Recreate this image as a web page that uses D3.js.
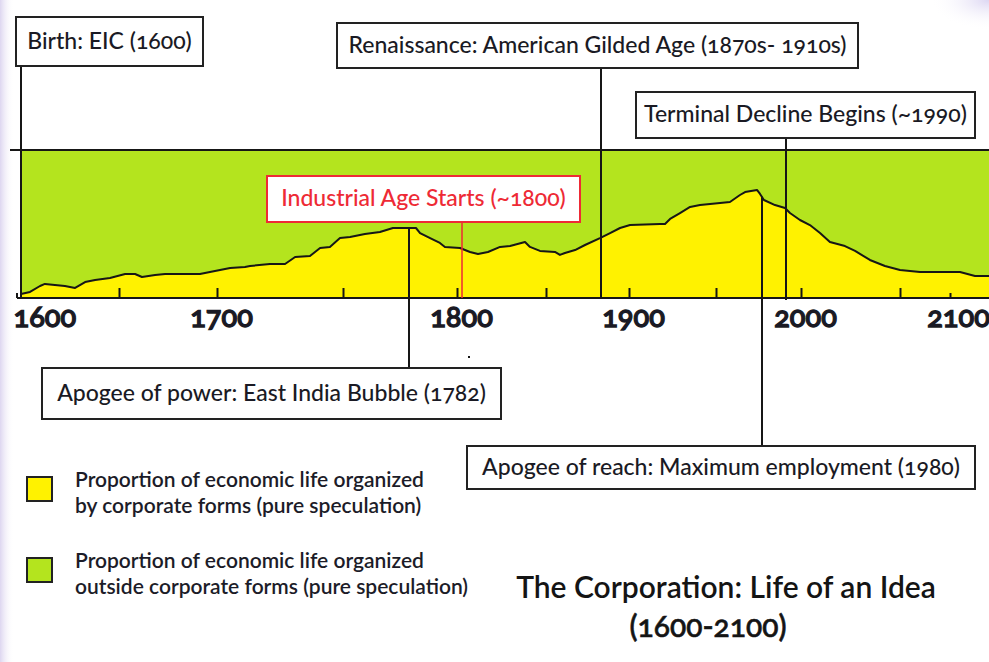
<!DOCTYPE html>
<html>
<head>
<meta charset="utf-8">
<script src="https://cdn.jsdelivr.net/npm/d3@7"></script>
<style>
  html, body { margin: 0; padding: 0; background: #fff; }
  svg { display: block; font-family: Lato, "Open Sans", sans-serif; }
  svg text { font-variant-numeric: oldstyle-nums; font-feature-settings: "onum" 1; }
</style>
</head>
<body>
<svg id="chart" width="989" height="662"></svg>
<script>
// ---------------- DATA ----------------
// axis knots (years at the 50-year ticks, drawn unevenly in the source)
const axisYears = [1600, 1650, 1700, 1750, 1800, 1850, 1900, 1950, 2000, 2050, 2100];
const centuryLabels = ["1600", "1700", "1800", "1900", "2000", "2100"];
const centuryYears = [1600, 1700, 1800, 1900, 2000, 2100];
const tickYears = [1650, 1700, 1750, 1800, 1850, 1900, 1950, 2000, 2050, 2100];

// share (%) of economic life organized by corporate forms (pure speculation)
const years = [1600, 1604.6, 1609.7, 1612.2, 1617.3, 1622.4, 1627.6, 1632.7, 1637.8, 1645.4,
  1653.1, 1658.2, 1661.7, 1668.4, 1673.5, 1691.3, 1696.4, 1705.2, 1711.1, 1713.1,
  1721.0, 1727.0, 1731.0, 1736.9, 1740.9, 1744.8, 1748.8, 1753.1, 1759.6, 1766.2,
  1771.9, 1782.0, 1783.8, 1788.2, 1792.5, 1794.7, 1801.7, 1807.3, 1811.8, 1817.4,
  1824.2, 1829.8, 1838.2, 1841.0, 1846.6, 1855.4, 1858.4, 1861.4, 1867.5, 1873.5,
  1882.5, 1888.6, 1894.6, 1900.6, 1917.8, 1920.7, 1923.6, 1929.3, 1935.1, 1940.8,
  1952.4, 1958.2, 1964.1, 1967.1, 1974.1, 1975.9, 1978.2, 1984.7, 1990.6, 1993.5,
  1999.4, 2004.5, 2009.6, 2014.6, 2022.2, 2027.3, 2034.8, 2042.4, 2050.0, 2070,
  2090, 2110, 2125, 2139];
const corporateShare = [2.7, 4.1, 8.1, 9.5, 8.8, 8.1, 6.8, 10.8, 12.2, 13.5,
  16.2, 16.2, 14.2, 15.5, 16.2, 16.2, 17.6, 20.3, 20.9, 21.6,
  23.0, 23.0, 27.7, 28.4, 33.8, 34.5, 40.5, 41.2, 43.2, 44.6,
  47.3, 47.3, 43.9, 40.5, 37.2, 34.5, 33.8, 31.1, 29.7, 31.1,
  34.5, 35.1, 37.8, 34.5, 31.8, 31.1, 29.1, 30.4, 32.4, 35.8,
  40.5, 43.9, 47.3, 49.3, 50.0, 50.0, 53.4, 57.4, 61.5, 62.8,
  64.2, 64.9, 69.6, 71.6, 73.0, 70.3, 66.2, 62.8, 60.8, 57.4,
  52.7, 49.3, 43.9, 37.8, 35.1, 31.8, 25.7, 21.6, 18.9, 17.6,
  17.6, 17.6, 14.9, 14.9];

// annotations: label text and where its leader line meets the time axis
const eventLabels = ["Birth: EIC (1600)", "Renaissance: American Gilded Age (1870s- 1910s)",
  "Terminal Decline Begins (~1990)", "Industrial Age Starts (~1800)",
  "Apogee of power: East India Bubble (1782)", "Apogee of reach: Maximum employment (1980)"];
const eventYears = [1600, 1883, 1991, 1803, 1779, 1977];

const legendLabels = [
  ["Proportion of economic life organized", "by corporate forms (pure speculation)"],
  ["Proportion of economic life organized", "outside corporate forms (pure speculation)"]
];
const titleLines = ["The Corporation: Life of an Idea", "(1600-2100)"];

// ---------------- LAYOUT / STYLE ----------------
const svg = d3.select("#chart");
const W = 989, H = 662;
const plotTop = 150, plotBottom = 298, plotLeft = 21;
const axisPx = [21, 119, 217, 343, 457, 546, 629, 716, 801, 900, 950];
const GREEN = "#b4e41e", YELLOW = "#fff200", INK = "#161616", RED = "#ee2a35";
const FONT = "Lato, sans-serif";

// annotation boxes [x0, y0, x1, y1]
const boxes = [
  {b: [16, 17, 203, 66], kind: "above", red: false},
  {b: [337, 23, 858, 68], kind: "above", red: false},
  {b: [636, 92, 975, 138], kind: "above", red: false},
  {b: [267, 176, 580, 222], kind: "above", red: true},
  {b: [42, 368, 501, 419], kind: "below", red: false},
  {b: [467, 446, 975, 489], kind: "below", red: false}
];

const x = d3.scaleLinear().domain(axisYears).range(axisPx);
const y = d3.scaleLinear().domain([0, 100]).range([plotBottom, plotTop]);

const data = years.map((yr, i) => ({year: yr, v: corporateShare[i]}));

// faint lavender background edges
const defs = svg.append("defs");
const lg = defs.append("linearGradient").attr("id", "edgeL").attr("x1", 0).attr("x2", 1);
lg.append("stop").attr("offset", 0).attr("stop-color", "#ddd6f0");
lg.append("stop").attr("offset", 1).attr("stop-color", "#ffffff").attr("stop-opacity", 0);
svg.append("rect").attr("x", 0).attr("y", 0).attr("width", 14).attr("height", H).attr("fill", "url(#edgeL)");
const rg = defs.append("radialGradient").attr("id", "edgeTR").attr("cx", 1).attr("cy", 0).attr("r", 1);
rg.append("stop").attr("offset", 0).attr("stop-color", "#dcd6f2");
rg.append("stop").attr("offset", 1).attr("stop-color", "#ffffff").attr("stop-opacity", 0);
svg.append("rect").attr("x", 930).attr("y", 0).attr("width", 59).attr("height", 30).attr("fill", "url(#edgeTR)");

// green background (outside corporate forms)
svg.append("rect")
  .attr("x", plotLeft).attr("y", plotTop)
  .attr("width", W - plotLeft).attr("height", plotBottom - plotTop)
  .attr("fill", GREEN);

// yellow area (corporate forms)
const area = d3.area().x(d => x(d.year)).y0(y(0)).y1(d => y(d.v)).curve(d3.curveLinear);
svg.append("path").datum(data).attr("d", area).attr("fill", YELLOW);
const line = d3.line().x(d => x(d.year)).y(d => y(d.v)).curve(d3.curveLinear);
svg.append("path").datum(data).attr("d", line)
  .attr("fill", "none").attr("stroke", INK).attr("stroke-width", 2).attr("stroke-linejoin", "round");

// top frame line
svg.append("line").attr("x1", 10).attr("x2", W).attr("y1", plotTop).attr("y2", plotTop)
  .attr("stroke", INK).attr("stroke-width", 2);

// tick marks (50 years), pointing up
const tickAxis = d3.axisBottom(x).tickValues(tickYears).tickSizeInner(-10).tickSizeOuter(0).tickFormat("");
const gt = svg.append("g").attr("transform", `translate(0,${plotBottom})`).call(tickAxis);
gt.select(".domain").remove();
gt.selectAll(".tick line").attr("stroke", INK).attr("stroke-width", 2)
  .attr("y2", (d) => d === 2100 ? -5 : -10);

// baseline
svg.append("line").attr("x1", 17).attr("x2", W).attr("y1", plotBottom).attr("y2", plotBottom)
  .attr("stroke", INK).attr("stroke-width", 2);
svg.append("line").attr("x1", 17).attr("x2", 17).attr("y1", plotBottom).attr("y2", plotBottom - 5)
  .attr("stroke", INK).attr("stroke-width", 2);

// century labels (medium weight + stroke keeps the old-style figures while looking bold)
const labAxis = d3.axisBottom(x).tickValues(centuryYears).tickSize(0).tickPadding(0)
  .tickFormat((d, i) => centuryLabels[i]);
const gl = svg.append("g").attr("transform", `translate(0,${plotBottom})`).call(labAxis);
gl.attr("font-family", FONT);
gl.select(".domain").remove();
gl.selectAll(".tick text")
  .attr("font-family", FONT).attr("font-weight", 500).attr("font-size", 29)
  .style("font-variant-numeric", "oldstyle-nums")
  .attr("fill", "#1a1a24").attr("stroke", "#1a1a24").attr("stroke-width", 1.3)
  .attr("dy", null).attr("y", 29)
  .attr("text-anchor", (d, i) => i === 0 ? "start" : "middle")
  .attr("dx", (d, i) => i === 0 ? -8 : (i === centuryYears.length - 1 ? 8 : 4));

// helper: curve value at year
function curveAt(yr) {
  const i = d3.bisector(d => d.year).left(data, yr);
  if (i <= 0) return data[0].v;
  if (i >= data.length) return data[data.length - 1].v;
  const a = data[i - 1], b = data[i];
  return a.v + (b.v - a.v) * (yr - a.year) / (b.year - a.year);
}

// leader lines
eventYears.forEach((yr, i) => {
  const bx = boxes[i];
  const xx = Math.round(x(yr));
  let y1, y2;
  if (bx.kind === "above") { y1 = bx.b[3]; y2 = plotBottom + (i === 2 ? 2 : 0); }
  else { y1 = y(curveAt(yr)); y2 = bx.b[1]; }
  svg.append("line").attr("x1", xx).attr("x2", xx).attr("y1", y1).attr("y2", y2)
    .attr("stroke", bx.red ? RED : INK).attr("stroke-width", bx.red ? 1.5 : 2);
});

// annotation boxes
eventLabels.forEach((txt, i) => {
  const bx = boxes[i];
  const [x0, y0, x1, y1] = bx.b;
  svg.append("rect").attr("x", x0).attr("y", y0).attr("width", x1 - x0).attr("height", y1 - y0)
    .attr("fill", "#fff").attr("stroke", bx.red ? RED : "#222").attr("stroke-width", 2);
  svg.append("text").attr("x", (x0 + x1) / 2).attr("y", (y0 + y1) / 2 + 7)
    .attr("text-anchor", "middle").attr("font-size", 23).attr("font-weight", 500)
    .attr("fill", bx.red ? RED : "#1a1a24").text(txt);
});

// small stray mark under the 1800 label
svg.append("rect").attr("x", 468).attr("y", 356).attr("width", 2).attr("height", 2).attr("fill", INK);

// legend
const legColors = [YELLOW, GREEN];
const legTop = [477, 558];
legendLabels.forEach((lines, i) => {
  svg.append("rect").attr("x", 27).attr("y", legTop[i]).attr("width", 25).attr("height", 24)
    .attr("fill", legColors[i]).attr("stroke", "#222").attr("stroke-width", 2);
  lines.forEach((ln, j) => {
    svg.append("text").attr("x", 75).attr("y", legTop[i] + 10 + j * 26)
      .attr("font-size", 21).attr("font-weight", 600).attr("fill", "#1c1c28").text(ln);
  });
});

// title
svg.append("text").attr("x", 726).attr("y", 598).attr("text-anchor", "middle")
  .attr("font-size", 30).attr("font-weight", 600).attr("fill", "#141414").text(titleLines[0]);
svg.append("text").attr("x", 708).attr("y", 637).attr("text-anchor", "middle")
  .attr("font-size", 30).attr("font-weight", 500).attr("fill", "#141414")
  .attr("stroke", "#141414").attr("stroke-width", 0.6).text(titleLines[1]);
</script>
</body>
</html>
